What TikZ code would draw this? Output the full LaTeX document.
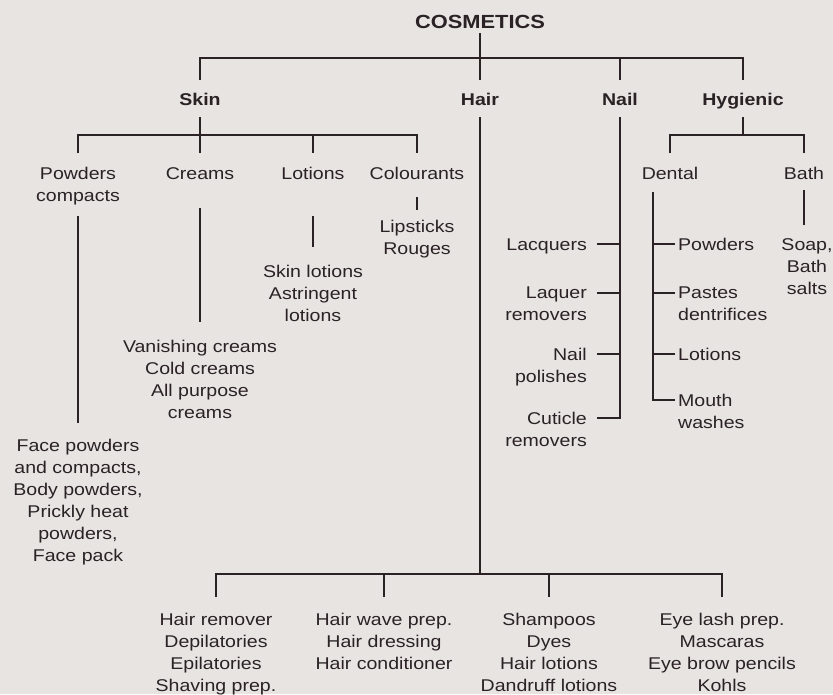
\documentclass[tikz,border=0pt]{standalone}
\usepackage{fontspec}
\setmainfont[FakeStretch=1.15]{Liberation Sans}
\definecolor{paper}{HTML}{E8E4E2}
\definecolor{ink}{HTML}{2A2225}

\begin{document}
\begin{tikzpicture}[%
  x=1pt,
  y=-1pt,
  every node/.style={inner sep=0pt, text=ink},
  lbl/.style={font=\fontsize{17}{22}\selectfont, text height=12pt, text depth=4pt},
  blk/.style={font=\fontsize{17}{22}\selectfont},
  head/.style={font=\fontsize{17}{22}\selectfont\bfseries, text height=12pt, text depth=4pt},
  tree/.style={draw=ink, line width=1.4pt},
  trunk/.style={draw=ink, line width=1.9pt},
  ]
  \fill[paper] (0,0) rectangle (833,694);
  \useasboundingbox (0,0) rectangle (833,694);
  %% Nodes
  \node[anchor=north, font=\fontsize{19}{22}\selectfont\bfseries,
    text height=13.6pt, text depth=4pt] (cos) at (480,15) {COSMETICS};
  \node[head, anchor=north] (skin) at (200,93) {Skin};
  \node[head, anchor=north] (hair) at (480,93) {Hair};
  \node[head, anchor=north] (nail) at (620,93) {Nail};
  \node[head, anchor=north] (hyg) at (743,93) {Hygienic};
  \coordinate (topbar) at (480,58);
  \coordinate (skinbar) at (200,135);
  \coordinate (hygbar) at (743,135);
  \coordinate (hairbar) at (480,574);
  \coordinate (dtop) at (653,192);
  % skin
  \node[blk, align=center, anchor=north] (powd) at (78,167) {Powders\\compacts};
  \node[lbl, anchor=north] (creams) at (200,167) {Creams};
  \node[lbl, anchor=north] (lotn) at (313,167) {Lotions};
  \node[lbl, anchor=north] (colr) at (417,167) {Colourants};
  \node[blk, align=center, anchor=north] (lips) at (417,220) {Lipsticks\\Rouges};
  \node[blk, align=center, anchor=north] (sklot) at (313,265) {Skin lotions\\Astringent\\lotions};
  \node[blk, align=center, anchor=north] (vanish) at (200,340)
    {Vanishing creams\\Cold creams\\All purpose\\creams};
  \node[blk, align=center, anchor=north] (face) at (78,439)
    {Face powders\\and compacts,\\Body powders,\\Prickly heat\\powders,\\Face pack};
  % nail
  \node[lbl, anchor=north east] (lacq) at (587,238) {Lacquers};
  \node[blk, align=right, anchor=north east] (laqr) at (587,287) {Laquer\\removers};
  \node[blk, align=right, anchor=north east] (npol) at (587,348) {Nail\\polishes};
  \node[blk, align=right, anchor=north east] (cuti) at (587,412) {Cuticle\\removers};
  % hygienic
  \node[lbl, anchor=north] (dent) at (670,167) {Dental};
  \node[lbl, anchor=north] (bath) at (804,167) {Bath};
  \node[blk, align=center, anchor=north] (soap) at (807,238) {Soap,\\Bath\\salts};
  \node[lbl, anchor=north west] (dpow) at (678,238) {Powders};
  \node[blk, align=left, anchor=north west] (dpas) at (678,287) {Pastes\\dentrifices};
  \node[lbl, anchor=north west] (dlot) at (678,348) {Lotions};
  \node[blk, align=left, anchor=north west] (dmou) at (678,394) {Mouth\\washes};
  % hair
  \node[blk, align=center, anchor=north] (hrem) at (216,613)
    {Hair remover\\Depilatories\\Epilatories\\Shaving prep.};
  \node[blk, align=center, anchor=north] (hwav) at (384,613)
    {Hair wave prep.\\Hair dressing\\Hair conditioner};
  \node[blk, align=center, anchor=north] (shmp) at (549,613)
    {Shampoos\\Dyes\\Hair lotions\\Dandruff lotions};
  \node[blk, align=center, anchor=north] (eyel) at (722,613)
    {Eye lash prep.\\Mascaras\\Eye brow pencils\\Kohls};
  %% Edges
  \draw[trunk] (cos.south) -- (topbar);
  \draw[trunk, shorten <=13pt, shorten >=13pt] (skin.north) |- (topbar) -| (hyg.north);
  \draw[trunk, shorten >=13pt] (topbar) -- (hair.north);
  \draw[trunk, shorten >=13pt] (nail |- topbar) -- (nail.north);
  % skin
  \draw[tree, shorten <=8pt] (skin.south) -- (skinbar);
  \draw[tree, shorten <=14pt, shorten >=14pt] (powd.north) |- (skinbar) -| (colr.north);
  \draw[tree, shorten >=14pt] (skinbar) -- (creams.north);
  \draw[tree, shorten >=14pt] (lotn |- skinbar) -- (lotn.north);
  \draw[tree, shorten <=11pt, shorten >=16pt] (powd.south) -- (face.north);
  \draw[tree, shorten <=25pt, shorten >=18pt] (creams.south) -- (vanish.north);
  \draw[tree, shorten <=33pt, shorten >=18pt] (lotn.south) -- (sklot.north);
  \draw[tree, shorten <=14pt, shorten >=10pt] (colr.south) -- (lips.north);
  % nail
  \foreach \n in {lacq,laqr,npol,cuti}
    \draw[tree, shorten <=10pt] ([yshift=-6pt]\n.north east) -| ([yshift=-8pt]nail.south);
  % hygienic
  \draw[tree, shorten <=8pt] (hyg.south) -- (hygbar);
  \draw[tree, shorten <=14pt, shorten >=14pt] (dent.north) |- (hygbar) -| (bath.north);
  \draw[tree, shorten <=7pt, shorten >=13pt] (bath.south) -- (bath |- soap.north);
  \foreach \n in {dpow,dpas,dlot,dmou}
    \draw[tree, shorten <=3pt] ([yshift=-6pt]\n.north west) -| (dtop);
  % hair
  \draw[trunk, shorten <=8pt] (hair.south) -- (hairbar);
  \draw[tree, shorten <=16pt, shorten >=16pt] (hrem.north) |- (hairbar) -| (eyel.north);
  \draw[tree, shorten >=16pt] (hwav |- hairbar) -- (hwav.north);
  \draw[tree, shorten >=16pt] (shmp |- hairbar) -- (shmp.north);
\end{tikzpicture}
\end{document}
